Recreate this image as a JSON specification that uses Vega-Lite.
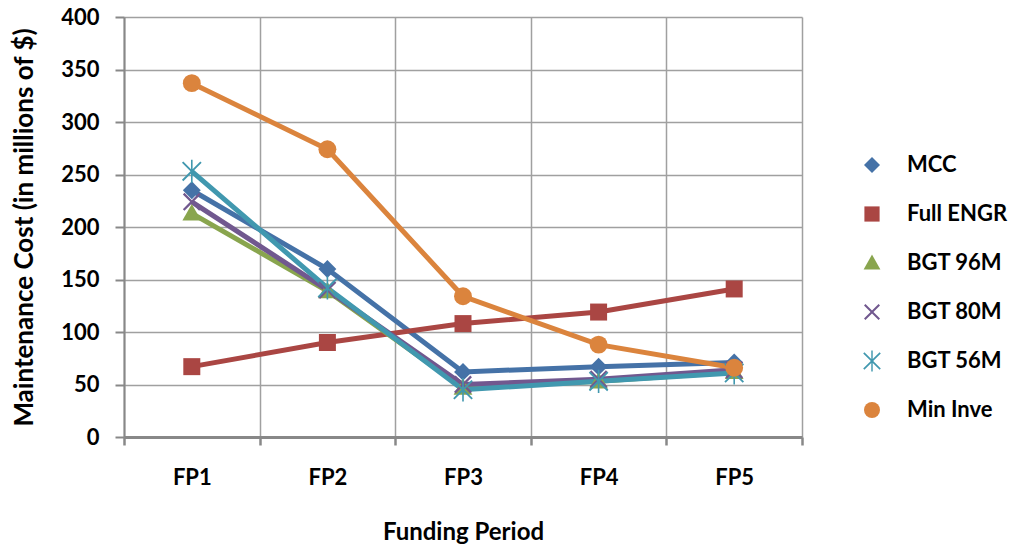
{
  "$schema": "https://vega.github.io/schema/vega-lite/v6.json",
  "width": 678,
  "height": 420,
  "autosize": {"type": "none"},
  "padding": {"left": 124, "top": 17, "right": 216, "bottom": 113},
  "background": "white",
  "config": {
    "font": "Lato",
    "view": {"stroke": null},
    "axis": {
      "labelFont": "Lato", "labelFontWeight": "bold", "labelFontSize": 22, "labelColor": "#000000",
      "titleFont": "Lato", "titleFontWeight": "bold", "titleFontSize": 24, "titleColor": "#000000",
      "gridColor": "#a0a0a0", "gridWidth": 1.5,
      "domainColor": "#888888", "tickColor": "#888888"
    }
  },
  "data": {
    "values": [
      {"period": "FP1", "series": "MCC", "value": 235},
      {"period": "FP2", "series": "MCC", "value": 160},
      {"period": "FP3", "series": "MCC", "value": 62},
      {"period": "FP4", "series": "MCC", "value": 67},
      {"period": "FP5", "series": "MCC", "value": 71},
      {"period": "FP1", "series": "Full ENGR", "value": 67},
      {"period": "FP2", "series": "Full ENGR", "value": 90},
      {"period": "FP3", "series": "Full ENGR", "value": 108},
      {"period": "FP4", "series": "Full ENGR", "value": 119},
      {"period": "FP5", "series": "Full ENGR", "value": 141},
      {"period": "FP1", "series": "BGT 96M", "value": 213},
      {"period": "FP2", "series": "BGT 96M", "value": 139},
      {"period": "FP3", "series": "BGT 96M", "value": 47},
      {"period": "FP4", "series": "BGT 96M", "value": 53},
      {"period": "FP5", "series": "BGT 96M", "value": 62},
      {"period": "FP1", "series": "BGT 80M", "value": 224},
      {"period": "FP2", "series": "BGT 80M", "value": 140},
      {"period": "FP3", "series": "BGT 80M", "value": 50},
      {"period": "FP4", "series": "BGT 80M", "value": 55},
      {"period": "FP5", "series": "BGT 80M", "value": 64},
      {"period": "FP1", "series": "BGT 56M", "value": 253},
      {"period": "FP2", "series": "BGT 56M", "value": 142},
      {"period": "FP3", "series": "BGT 56M", "value": 45},
      {"period": "FP4", "series": "BGT 56M", "value": 53},
      {"period": "FP5", "series": "BGT 56M", "value": 61},
      {"period": "FP1", "series": "Min Inve", "value": 337},
      {"period": "FP2", "series": "Min Inve", "value": 274},
      {"period": "FP3", "series": "Min Inve", "value": 134},
      {"period": "FP4", "series": "Min Inve", "value": 88},
      {"period": "FP5", "series": "Min Inve", "value": 66}
    ]
  },
  "encoding": {
    "x": {
      "field": "period", "type": "nominal",
      "scale": {"type": "band", "paddingInner": 0, "paddingOuter": 0},
      "axis": {
        "title": "Funding Period", "labelAngle": 0, "grid": true, "tickBand": "extent",
        "domainWidth": 3, "tickSize": 8, "tickWidth": 2.5, "labelPadding": 22, "titlePadding": 32
      }
    },
    "y": {
      "field": "value", "type": "quantitative",
      "scale": {"domain": [0, 400], "nice": false},
      "axis": {
        "title": "Maintenance Cost (in millions of $)", "titleFontSize": 26, "values": [0, 50, 100, 150, 200, 250, 300, 350, 400],
        "domainWidth": 2, "tickSize": 9, "tickWidth": 2, "labelPadding": 16, "titlePadding": 23
      }
    },
    "color": {
      "field": "series", "type": "nominal",
      "scale": {
        "domain": ["MCC", "Full ENGR", "BGT 96M", "BGT 80M", "BGT 56M", "Min Inve"],
        "range": ["#4572A7", "#AA4643", "#89A54E", "#71588F", "#4198AF", "#DB843D"]
      },
      "legend": {
        "title": null, "orient": "none", "legendX": 737, "legendY": 137,
        "symbolSize": 256, "symbolStrokeWidth": 0, "symbolType": "circle", "labelOffset": 24, "rowPadding": 27,
        "labelFont": "Lato", "labelFontWeight": "bold", "labelFontSize": 22, "labelColor": "#000000",
        "encode": {
          "symbols": {
            "update": {
              "shape": {"signal": "datum.value === 'MCC' ? 'M-3.4,-0.3H3.4V0.3H-3.4Z M0,-1L1,0L0,1L-1,0Z' : datum.value === 'Full ENGR' ? 'M-3.4,-0.3H3.4V0.3H-3.4Z M-0.9,-0.9H0.9V0.9H-0.9Z' : datum.value === 'BGT 96M' ? 'M-3.4,-0.3H3.4V0.3H-3.4Z M0,-1L1,0.75L-1,0.75Z' : datum.value === 'BGT 80M' ? 'M-3.4,-0.3H3.4V0.3H-3.4Z M-1,-0.82L-0.82,-1L0,-0.18L0.82,-1L1,-0.82L0.18,0L1,0.82L0.82,1L0,0.18L-0.82,1L-1,0.82L-0.18,0Z' : datum.value === 'BGT 56M' ? 'M-3.4,-0.3H3.4V0.3H-3.4Z M-1,-0.85L-0.85,-1L0,-0.15L0.85,-1L1,-0.85L0.15,0L1,0.85L0.85,1L0,0.15L-0.85,1L-1,0.85L-0.15,0Z M-0.1,-1.2H0.1V1.2H-0.1Z' : 'M-3.4,-0.3H3.4V0.3H-3.4Z M-1,0A1,1,0,1,1,1,0A1,1,0,1,1,-1,0Z'"}
            },
            "shape": {"value": {"expr": "datum.value === 'MCC' ? 'M-3.4,-0.3H3.4V0.3H-3.4Z M0,-1L1,0L0,1L-1,0Z' : datum.value === 'Full ENGR' ? 'M-3.4,-0.3H3.4V0.3H-3.4Z M-0.9,-0.9H0.9V0.9H-0.9Z' : datum.value === 'BGT 96M' ? 'M-3.4,-0.3H3.4V0.3H-3.4Z M0,-1L1,0.75L-1,0.75Z' : datum.value === 'BGT 80M' ? 'M-3.4,-0.3H3.4V0.3H-3.4Z M-1,-0.82L-0.82,-1L0,-0.18L0.82,-1L1,-0.82L0.18,0L1,0.82L0.82,1L0,0.18L-0.82,1L-1,0.82L-0.18,0Z' : datum.value === 'BGT 56M' ? 'M-3.4,-0.3H3.4V0.3H-3.4Z M-1,-0.85L-0.85,-1L0,-0.15L0.85,-1L1,-0.85L0.15,0L1,0.85L0.85,1L0,0.15L-0.85,1L-1,0.85L-0.15,0Z M-0.1,-1.2H0.1V1.2H-0.1Z' : 'M-3.4,-0.3H3.4V0.3H-3.4Z M-1,0A1,1,0,1,1,1,0A1,1,0,1,1,-1,0Z'"}}
          }
        }
      }
    }
  },
  "layer": [
    {
      "mark": {"type": "line", "strokeWidth": 5}
    },
    {
      "mark": {"type": "point", "filled": true, "opacity": 1, "size": 320},
      "encoding": {
        "shape": {
          "field": "series", "type": "nominal",
          "scale": {
            "domain": ["MCC", "Full ENGR", "BGT 96M", "BGT 80M", "BGT 56M", "Min Inve"],
            "range": [
              "M0,-1L1,0L0,1L-1,0Z",
              "M-0.95,-0.95H0.95V0.95H-0.95Z",
              "M0,-1.05L1.05,0.8L-1.05,0.8Z",
              "M-1,-0.82L-0.82,-1L0,-0.18L0.82,-1L1,-0.82L0.18,0L1,0.82L0.82,1L0,0.18L-0.82,1L-1,0.82L-0.18,0Z",
              "M-1.1,-0.95L-0.95,-1.1L0,-0.15L0.95,-1.1L1.1,-0.95L0.15,0L1.1,0.95L0.95,1.1L0,0.15L-0.95,1.1L-1.1,0.95L-0.15,0Z M-0.09,-1.3H0.09V1.3H-0.09Z",
              "circle"
            ]
          },
          "legend": null
        }
      }
    }
  ]
}
